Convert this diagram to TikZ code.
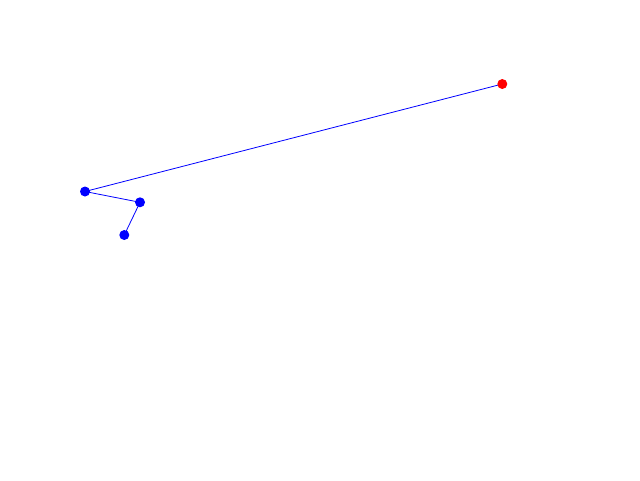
\documentclass[tikz,border=0pt]{standalone}
\usepackage{tikz}

\tikzset{
  joint/.style={circle, fill=blue, inner sep=0pt, minimum size=7.5pt},
  tip/.style={circle, fill=red, inner sep=0pt, minimum size=7.5pt},
  link/.style={draw=blue, line width=0.6pt}
}

\begin{document}
\begin{tikzpicture}[x=0.75pt,y=0.75pt,yscale=-1,xscale=1]
%set diagram to 640 x 480
\useasboundingbox (0,0) rectangle (640,480);

%Straight Lines
\coordinate (t) at (502.3,84);
\coordinate (a) at (85,191.5);
\coordinate (b) at (140,202.3);
\coordinate (c) at (124.3,235);
\draw [link] (t) -- (a) ;
\draw [link] (a) -- (b) ;
\draw [link] (b) -- (c) ;

%Shape: Circles
\node [tip] (target) at (t) {};
\node [joint] (j1) at (a) {};
\node [joint] (j2) at (b) {};
\node [joint] (j3) at (c) {};

\end{tikzpicture}
\end{document}
